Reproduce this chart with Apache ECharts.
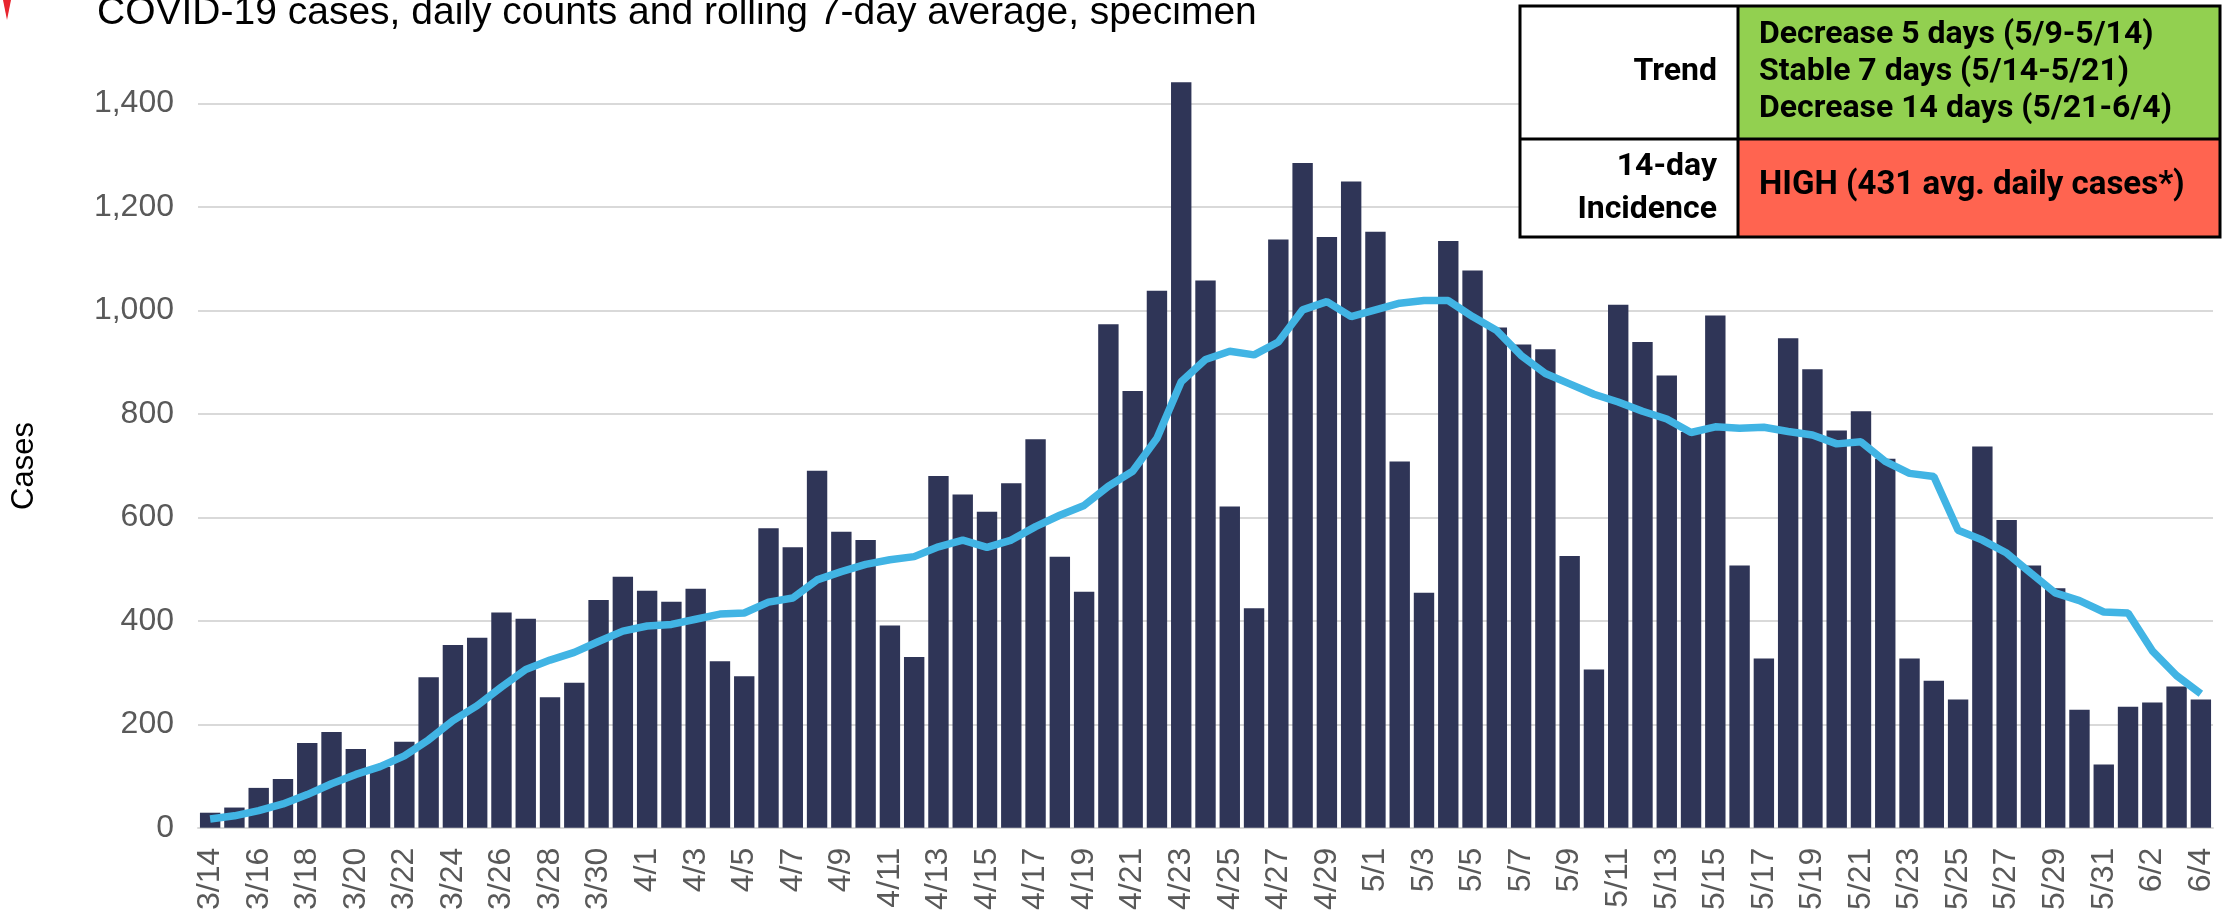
<!DOCTYPE html>
<html>
<head>
<meta charset="utf-8">
<script src="https://cdn.jsdelivr.net/npm/echarts@6/dist/echarts.min.js"></script>
<style>
  html, body { margin: 0; padding: 0; background: #fff; }
  #chart { width: 2229px; height: 913px; }
</style>
</head>
<body>
<div id="chart"></div>
<script>
var dates = [
    '3/14', '3/15', '3/16', '3/17', '3/18', '3/19', '3/20', '3/21', '3/22', '3/23', '3/24', '3/25',
    '3/26', '3/27', '3/28', '3/29', '3/30', '3/31',
    '4/1', '4/2', '4/3', '4/4', '4/5', '4/6', '4/7', '4/8', '4/9', '4/10', '4/11', '4/12', '4/13',
    '4/14', '4/15', '4/16', '4/17', '4/18', '4/19', '4/20', '4/21', '4/22', '4/23', '4/24', '4/25',
    '4/26', '4/27', '4/28', '4/29', '4/30',
    '5/1', '5/2', '5/3', '5/4', '5/5', '5/6', '5/7', '5/8', '5/9', '5/10', '5/11', '5/12', '5/13',
    '5/14', '5/15', '5/16', '5/17', '5/18', '5/19', '5/20', '5/21', '5/22', '5/23', '5/24', '5/25',
    '5/26', '5/27', '5/28', '5/29', '5/30', '5/31',
    '6/1', '6/2', '6/3', '6/4'
];

var dailyCases = [
    29, 39, 77, 94, 164, 185, 152, 118, 166, 291, 353, 367, 416, 404, 252, 280, 440, 485,
    458, 437, 462, 322, 293, 579, 542, 690, 572, 556, 391, 330, 680, 644, 611, 666, 751, 524,
    456, 973, 844, 1038, 1441, 1058, 621, 424, 1137, 1285, 1142, 1249,
    1152, 708, 454, 1134, 1077, 967, 934, 925, 525, 306, 1011, 939, 874, 765, 990, 507, 327,
    946, 886, 768, 805, 713, 327, 284, 248, 737, 595, 507, 463, 228, 122,
    234, 242, 273, 248
];

var rollingAvg = [
    17, 23, 33, 46, 64, 85, 103, 118, 139, 170, 207, 236, 272, 306, 324, 339, 360, 380,
    390, 393, 403, 413, 415, 436, 444, 479, 495, 509, 518, 524, 543, 556, 542, 556, 582, 604,
    623, 660, 689, 753, 862, 905, 921, 914, 939, 1001, 1017, 988,
    1001, 1014, 1019, 1019, 988, 961, 913, 878, 858, 838, 823, 805, 790, 764, 775, 772, 774,
    766, 759, 742, 746, 708, 685, 679, 575, 556, 531, 492, 454, 439, 417,
    415, 342, 294, 259
];

var trendLines = [
    'Decrease 5 days (5/9-5/14)',
    'Stable 7 days (5/14-5/21)',
    'Decrease 14 days (5/21-6/4)'
];
var incidenceText = 'HIGH (431 avg. daily cases*)';

var myChart = echarts.init(document.getElementById('chart'));

var FONT = '"Liberation Sans", Arial, sans-serif';
var TABLE_FONT = 'Roboto, "Liberation Sans", sans-serif';
var gridColors = ['#d9d9d9', '#d9d9d9', '#d9d9d9', '#d9d9d9', '#d9d9d9',
                  '#d9d9d9', '#d9d9d9', '#d9d9d9', 'rgba(0,0,0,0)'];

// summary table in the top right corner
var tbl = { x: 1520, y: 6, w: 700, split: 1738, mid: 139, bottom: 237 };

function cellText(x, y, text, align, fontSize, lineHeight) {
    return {
        type: 'text',
        x: x,
        y: y,
        z: 13,
        style: {
            text: text,
            fontSize: fontSize,
            fontWeight: 'bold',
            fontFamily: TABLE_FONT,
            lineHeight: lineHeight || 37,
            fill: '#000',
            align: align,
            verticalAlign: 'middle'
        }
    };
}

var option = {
    animation: false,
    backgroundColor: '#fff',
    grid: {
        left: 198,
        right: 16,
        top: 0,
        bottom: 84
    },
    xAxis: {
        type: 'category',
        data: dates,
        axisLine: { lineStyle: { color: '#d9d9d9', width: 2 } },
        axisTick: { show: false },
        axisLabel: {
            interval: 1,
            rotate: 90,
            margin: 20,
            color: '#595959',
            fontSize: 32,
            fontFamily: FONT
        }
    },
    yAxis: {
        type: 'value',
        min: 0,
        max: 1600,
        interval: 200,
        axisLine: { show: false },
        axisTick: { show: false },
        axisLabel: {
            margin: 24,
            color: '#595959',
            fontSize: 32,
            fontFamily: FONT,
            showMaxLabel: false,
            formatter: function (v) { return v.toLocaleString('en-US'); }
        },
        splitLine: { lineStyle: { color: gridColors, width: 2 } }
    },
    series: [
        {
            name: 'Daily cases',
            type: 'bar',
            data: dailyCases,
            barCategoryGap: '16%',
            itemStyle: { color: '#2f3557' }
        },
        {
            name: '7-day average',
            type: 'line',
            data: rollingAvg,
            showSymbol: false,
            smooth: false,
            lineStyle: { color: '#41b4e4', width: 7.5 },
            z: 3
        }
    ],
    graphic: [
        {
            type: 'polygon',
            shape: { points: [[3, 0], [11, 0], [7, 20]] },
            style: { fill: '#e8242e' }
        },
        {
            type: 'text',
            x: 97,
            y: 13,
            style: {
                text: 'COVID-19 cases, daily counts and rolling 7-day average, specimen',
                fontSize: 39,
                fontFamily: FONT,
                fill: '#000',
                verticalAlign: 'middle'
            }
        },
        {
            type: 'text',
            x: 24,
            y: 466,
            rotation: Math.PI / 2,
            style: {
                text: 'Cases',
                fontSize: 31,
                fontFamily: FONT,
                fill: '#000',
                align: 'center',
                verticalAlign: 'middle'
            }
        },
        {
            type: 'rect',
            shape: { x: tbl.x, y: tbl.y, width: tbl.split - tbl.x, height: tbl.bottom - tbl.y },
            style: { fill: '#fff' },
            z: 10
        },
        {
            type: 'rect',
            shape: { x: tbl.split, y: tbl.y, width: tbl.x + tbl.w - tbl.split, height: tbl.mid - tbl.y },
            style: { fill: '#92d050' },
            z: 10
        },
        {
            type: 'rect',
            shape: { x: tbl.split, y: tbl.mid, width: tbl.x + tbl.w - tbl.split, height: tbl.bottom - tbl.mid },
            style: { fill: '#ff6450' },
            z: 10
        },
        {
            type: 'rect',
            shape: { x: tbl.x, y: tbl.y, width: tbl.w, height: tbl.bottom - tbl.y },
            style: { fill: 'none', stroke: '#000', lineWidth: 3 },
            z: 12
        },
        {
            type: 'line',
            shape: { x1: tbl.x, y1: tbl.mid, x2: tbl.x + tbl.w, y2: tbl.mid },
            style: { stroke: '#000', lineWidth: 3 },
            z: 12
        },
        {
            type: 'line',
            shape: { x1: tbl.split, y1: tbl.y, x2: tbl.split, y2: tbl.bottom },
            style: { stroke: '#000', lineWidth: 3 },
            z: 12
        },
        cellText(1717, 72, 'Trend', 'right', 32),
        cellText(1759, 72, trendLines.join('\n'), 'left', 32),
        cellText(1717, 188, '14-day\nIncidence', 'right', 32, 43),
        cellText(1759, 186, incidenceText, 'left', 33)
    ]
};

myChart.setOption(option);
</script>
</body>
</html>
